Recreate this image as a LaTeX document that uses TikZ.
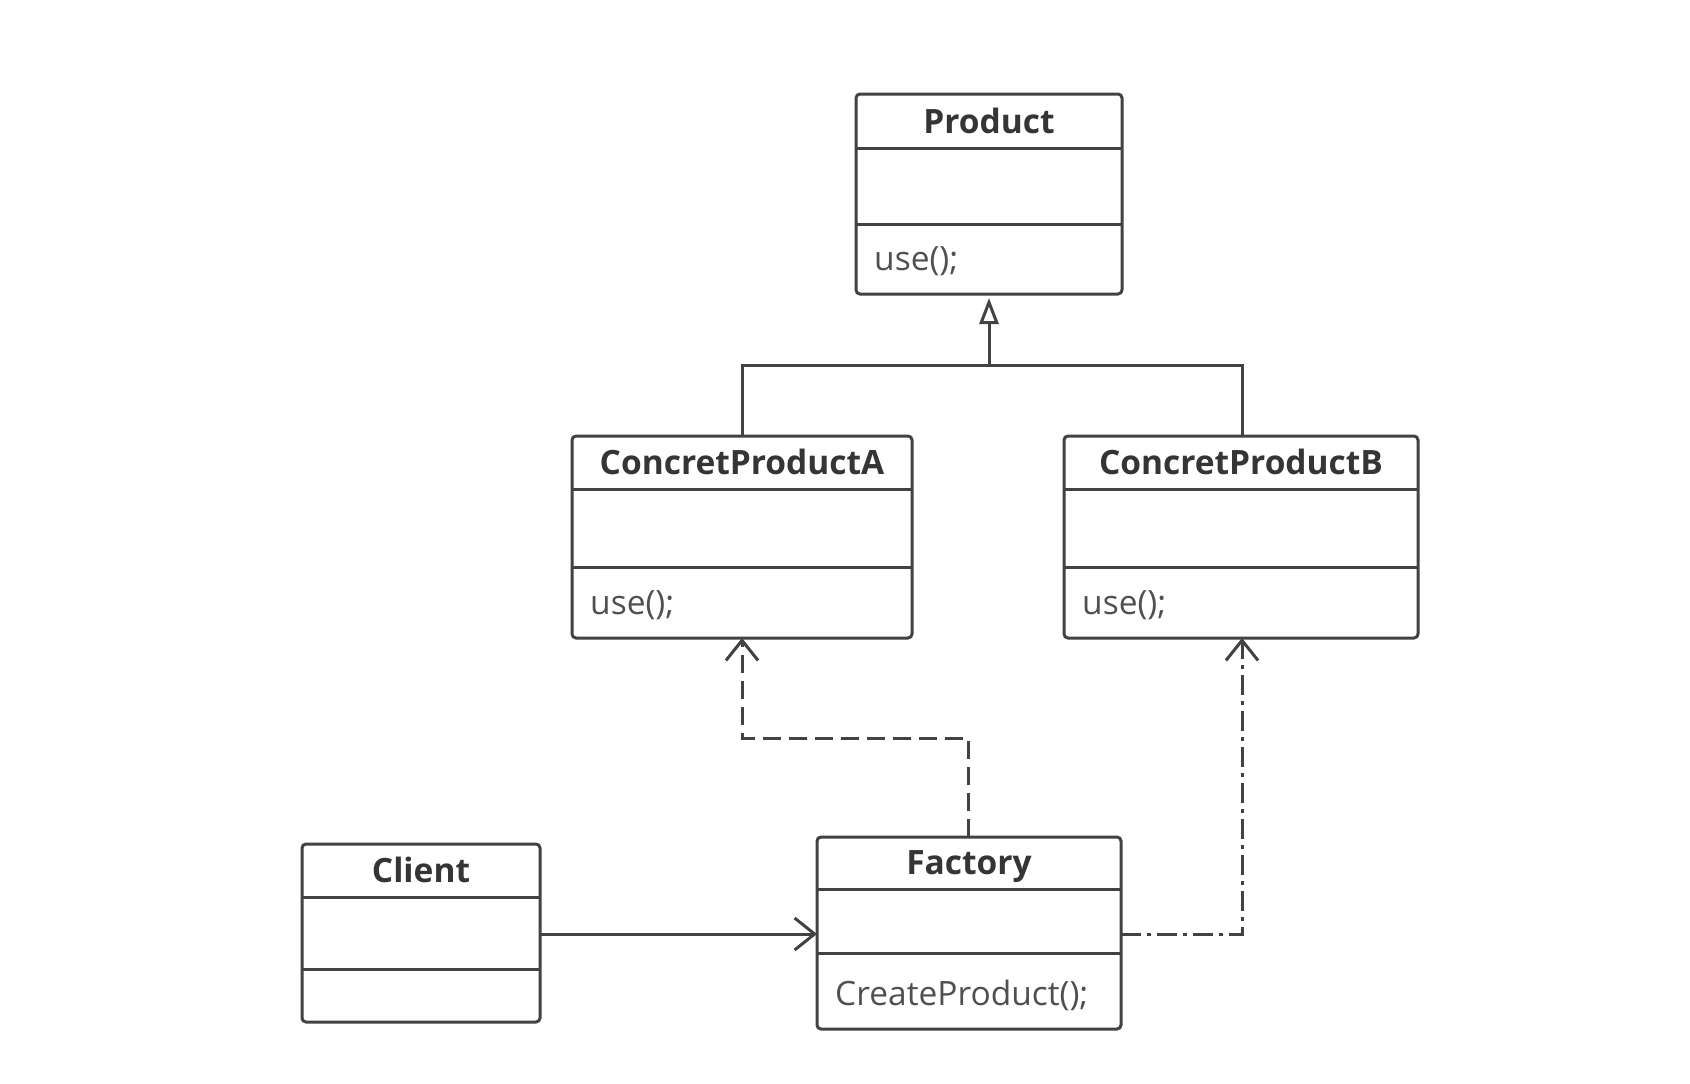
\documentclass[tikz,border=0pt]{standalone}
\usepackage{fontspec}
\setmainfont{Open Sans}
\usetikzlibrary{arrows.meta}
\definecolor{ln}{HTML}{424242}
\definecolor{tx}{HTML}{353535}
\definecolor{mt}{HTML}{505050}
\tikzset{
  classbox/.style={draw=ln, line width=3pt, rounded corners=4pt, inner sep=0pt, outer sep=0pt},
  sepline/.style={draw=ln, line width=3pt},
  titletext/.style={text=tx, font=\fontsize{33.5}{40}\selectfont\bfseries, inner sep=0pt},
  methtext/.style={text=mt, font=\fontsize{33.5}{40}\selectfont, inner sep=0pt},
  conn/.style={draw=ln, line width=3pt},
  inherit/.style={conn, -{Triangle[open, length=26pt, width=19pt, line width=3pt]}},
  depend/.style={conn, -{Straight Barb[length=20pt, width=32pt, line width=3pt]}},
  dashline/.style={dash pattern=on 18pt off 8pt},
  dashdotline/.style={dash pattern=on 20pt off 6pt on 4pt off 6pt},
}
\newcommand\umlclass[9]{%
  \node[classbox, minimum width={#4-#2}, minimum height={#5-#3}, anchor=north west] (#1) at (#2,#3) {};
  \draw[sepline] (#2,#6) -- (#4,#6);
  \draw[sepline] (#2,#7) -- (#4,#7);
  \node[titletext, anchor=base] (#1-title) at ({(#2+#4)/2},{#6-15}) {#8};
  \node[methtext, anchor=base west] (#1-meth) at ({#2+18},{#5-24}) {#9};
}
\begin{document}
\begin{tikzpicture}[x=1pt,y=-1pt]
\fill[white] (0,0) rectangle (1690,1084);
\useasboundingbox (0,0) rectangle (1690,1084);
\umlclass{product}{856}{94}{1122}{294}{148}{224}{Product}{use();}
\umlclass{cpa}{572}{436}{912}{638}{489}{567}{ConcretProductA}{use();}
\umlclass{cpb}{1064}{436}{1418}{638}{489}{567}{ConcretProductB}{use();}
\umlclass{client}{302}{844}{540}{1022}{897}{969}{Client}{}
\umlclass{factory}{817}{837}{1121}{1029}{889}{953}{Factory}{CreateProduct();}
\coordinate (junc) at (989,365);
\coordinate (bendA) at (968,738);
\coordinate (bendB) at (1242,934);
% generalization
\draw[conn] (cpa.north -| 742,0) |- (junc) -| (cpb.north -| 1242,0);
\draw[inherit] (junc) -- ([yshift=-4pt]product.south -| junc);
% dependencies
\draw[depend, dashline] (factory.north -| bendA) -- (bendA) -| (cpa.south -| 742,0);
\draw[depend, dashdotline] (factory.east |- bendB) -- (bendB) -- (cpb.south -| bendB);
\draw[depend] (client.east |- 0,934) -- (factory.west |- 0,934);
\end{tikzpicture}
\end{document}
